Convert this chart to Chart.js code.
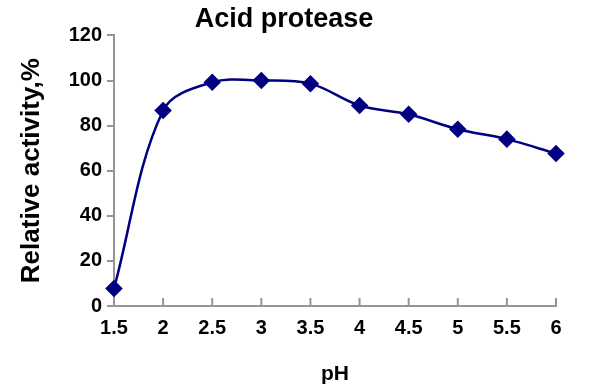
<!DOCTYPE html>
<html lang="en">
<head>
    <meta charset="UTF-8">
    <title>Acid protease</title>
    <script src="https://cdn.jsdelivr.net/npm/chart.js"></script>
    <style>
        html, body { margin: 0; padding: 0; background: #fff; }
        .chart-box { width: 605px; height: 390px; }
    </style>
</head>
<body>
    <div class="chart-box">
        <canvas id="phChart"></canvas>
    </div>
    <script>
        // pH values and relative activity (%)
        const phValues = [1.5, 2, 2.5, 3, 3.5, 4, 4.5, 5, 5.5, 6];
        const activity = [7.8, 86.7, 99.2, 100, 98.6, 88.9, 85, 78.4, 74, 67.6];
        const yTicks = [0, 20, 40, 60, 80, 100, 120];

        const axisGrey = '#959595';
        const navy = '#000080';
        const fontFamily = '"Liberation Sans", Arial, sans-serif';

        // x ticks point up into the plot, like the original
        const innerTicks = {
            id: 'innerTicks',
            afterDraw(chart) {
                const x = chart.scales.x;
                const ctx = chart.ctx;
                ctx.save();
                ctx.strokeStyle = axisGrey;
                ctx.lineWidth = 2;
                phValues.forEach(v => {
                    const px = x.getPixelForValue(v);
                    ctx.beginPath();
                    ctx.moveTo(px, x.top);
                    ctx.lineTo(px, x.top - 8);
                    ctx.stroke();
                });
                ctx.restore();
            }
        };

        // shift the title centre a bit left, as in the picture
        const titleShift = {
            id: 'titleShift',
            afterLayout(chart) {
                chart.titleBlock.left = 0;
                chart.titleBlock.right = 568;
            }
        };

        const ctx = document.getElementById('phChart').getContext('2d');
        new Chart(ctx, {
            type: 'line',
            data: {
                datasets: [{
                    data: phValues.map((p, i) => ({ x: p, y: activity[i] })),
                    borderColor: navy,
                    backgroundColor: navy,
                    borderWidth: 2.5,
                    pointStyle: 'rectRot',
                    pointRadius: 7,
                    pointHoverRadius: 7,
                    tension: 0.35,
                    clip: false
                }]
            },
            options: {
                responsive: true,
                maintainAspectRatio: false,
                animation: false,
                layout: { padding: { left: 0, right: 49, top: 3, bottom: 0 } },
                plugins: {
                    legend: { display: false },
                    tooltip: { enabled: false },
                    title: {
                        display: true,
                        text: 'Acid protease',
                        color: '#000',
                        font: { family: fontFamily, size: 27, weight: 'bold' },
                        padding: { top: 0, bottom: 0 }
                    }
                },
                scales: {
                    x: {
                        type: 'linear',
                        min: 1.5,
                        max: 6,
                        afterBuildTicks(scale) {
                            scale.ticks = phValues.map(v => ({ value: v }));
                        },
                        afterFit(scale) { scale.height = 84; },
                        border: { color: axisGrey, width: 2 },
                        grid: { drawOnChartArea: false, drawTicks: false },
                        ticks: {
                            color: '#000',
                            padding: 10,
                            maxRotation: 0,
                            callback: v => String(v),
                            font: { family: fontFamily, size: 20, weight: 'bold' }
                        },
                        title: {
                            display: true,
                            text: 'pH',
                            color: '#000',
                            font: { family: fontFamily, size: 21, weight: 'bold' },
                            padding: { top: 0, bottom: 3 }
                        }
                    },
                    y: {
                        min: 0,
                        max: 120,
                        afterBuildTicks(scale) {
                            scale.ticks = yTicks.map(v => ({ value: v }));
                        },
                        afterFit(scale) { scale.width = 114; },
                        border: { color: axisGrey, width: 2 },
                        grid: { drawOnChartArea: false, drawTicks: true, tickLength: 7, color: axisGrey, lineWidth: 2 },
                        ticks: {
                            color: '#000',
                            padding: 5,
                            font: { family: fontFamily, size: 20, weight: 'bold' }
                        },
                        title: {
                            display: true,
                            text: 'Relative activity,%',
                            color: '#000',
                            font: { family: fontFamily, size: 26, weight: 'bold' },
                            padding: { top: 16, bottom: 0 }
                        }
                    }
                }
            },
            plugins: [innerTicks, titleShift]
        });
    </script>
</body>
</html>
